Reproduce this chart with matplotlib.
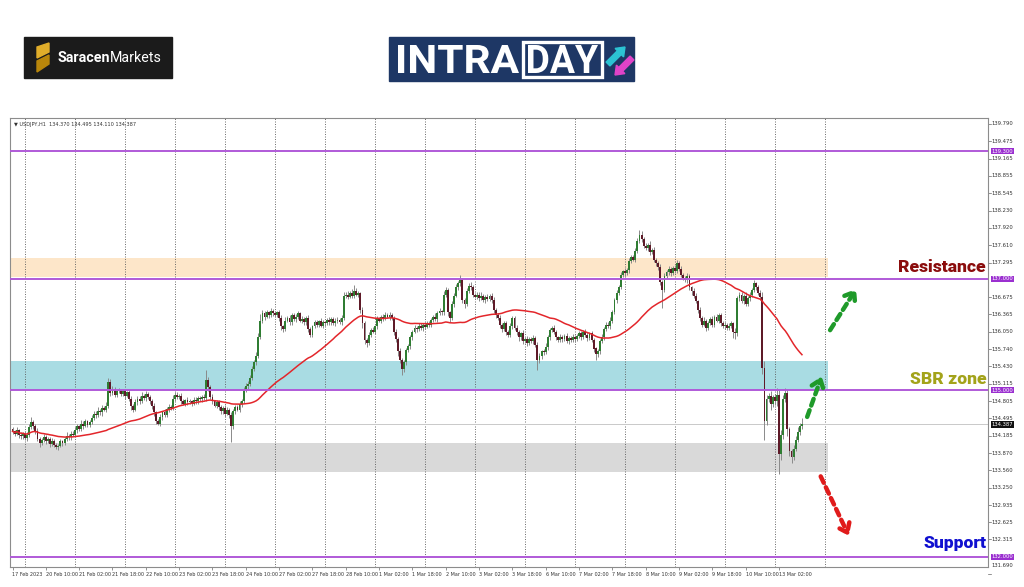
import numpy as np
import pandas as pd
import matplotlib
matplotlib.use("Agg")
import matplotlib.pyplot as plt
from matplotlib.patches import Rectangle, Polygon, FancyArrow, PathPatch
from matplotlib.textpath import TextPath
from matplotlib.font_manager import FontProperties
from matplotlib.transforms import Affine2D

# ---------------- data ----------------
symbol_text = "\u25bc USDJPY,H1  134.370 134.495 134.110 134.387"
open_first = 134.30
closes = [
    134.26, 134.22, 134.28, 134.20, 134.17, 134.22, 134.14, 134.20, 134.34, 134.42,
    134.36, 134.27, 134.12, 134.05, 134.10, 134.16, 134.08, 134.12, 134.04, 134.09,
    134.02, 133.98, 134.00, 134.08, 134.05, 134.12, 134.18, 134.15, 134.22, 134.20,
    134.28, 134.35, 134.30, 134.40, 134.36, 134.44, 134.38, 134.42, 134.50, 134.58,
    134.55, 134.63, 134.60, 134.68, 134.65, 134.72, 135.15, 134.95, 135.02, 134.92,
    134.98, 135.00, 134.94, 134.98, 134.90, 134.96, 134.85, 134.72, 134.65, 134.78,
    134.85, 134.80, 134.90, 134.86, 134.93, 134.88, 134.80, 134.72, 134.60, 134.45,
    134.40, 134.52, 134.60, 134.55, 134.66, 134.70, 134.68, 134.85, 134.92, 134.88,
    134.90, 134.80, 134.76, 134.82, 134.78, 134.80, 134.76, 134.83, 134.80, 134.86,
    134.84, 134.88, 134.86, 135.18, 135.05, 134.88, 134.80, 134.72, 134.78, 134.70,
    134.62, 134.68, 134.58, 134.65, 134.55, 134.35, 134.62, 134.70, 134.65, 134.75,
    134.80, 135.00, 135.08, 135.12, 135.22, 135.38, 135.50, 135.62, 135.95, 136.25,
    136.38, 136.32, 136.40, 136.36, 136.42, 136.38, 136.35, 136.40, 136.30, 136.15,
    136.10, 136.25, 136.30, 136.22, 136.35, 136.28, 136.32, 136.38, 136.25, 136.28,
    136.22, 136.30, 136.10, 136.00, 136.15, 136.22, 136.18, 136.24, 136.16, 136.22,
    136.20, 136.26, 136.22, 136.28, 136.20, 136.25, 136.27, 136.22, 136.30, 136.70,
    136.72, 136.68, 136.75, 136.70, 136.78, 136.72, 136.74, 136.45, 136.20, 135.90,
    135.85, 136.00, 136.08, 136.05, 136.15, 136.28, 136.25, 136.32, 136.30, 136.36,
    136.32, 136.35, 136.30, 136.05, 135.92, 135.70, 135.55, 135.38, 135.50, 135.72,
    135.80, 135.95, 136.05, 136.12, 136.10, 136.16, 136.12, 136.18, 136.14, 136.20,
    136.18, 136.26, 136.32, 136.28, 136.38, 136.42, 136.40, 136.72, 136.80, 136.40,
    136.30, 136.55, 136.70, 136.85, 136.92, 136.98, 136.62, 136.55, 136.78, 136.88,
    136.85, 136.72, 136.68, 136.72, 136.65, 136.70, 136.62, 136.68, 136.64, 136.70,
    136.62, 136.45, 136.35, 136.30, 136.18, 136.10, 136.20, 136.05, 136.00, 136.15,
    136.30, 136.12, 136.05, 135.95, 136.02, 135.88, 135.92, 135.85, 135.92, 135.88,
    135.94, 135.82, 135.55, 135.62, 135.70, 135.68, 135.78, 135.95, 136.08, 136.12,
    136.05, 135.95, 135.90, 135.96, 135.92, 135.98, 135.88, 135.94, 135.90, 135.96,
    135.92, 135.98, 136.02, 135.95, 136.05, 136.00, 135.94, 136.02, 135.90, 135.75,
    135.65, 135.70, 135.88, 135.95, 136.10, 136.18, 136.15, 136.25, 136.40, 136.62,
    136.75, 136.85, 137.08, 137.14, 137.10, 137.16, 137.32, 137.40, 137.35, 137.50,
    137.68, 137.80, 137.72, 137.60, 137.55, 137.62, 137.48, 137.52, 137.35, 137.28,
    137.22, 136.95, 136.80, 137.05, 137.12, 137.18, 137.10, 137.20, 137.15, 137.28,
    137.18, 137.08, 137.02, 136.98, 137.05, 136.85, 136.78, 136.70, 136.60, 136.45,
    136.30, 136.18, 136.25, 136.12, 136.20, 136.28, 136.18, 136.32, 136.25, 136.35,
    136.20, 136.15, 136.18, 136.12, 136.16, 136.20, 136.05, 136.02, 136.65, 136.72,
    136.60, 136.70, 136.55, 136.65, 136.72, 136.80, 136.92, 136.85, 136.75, 136.68,
    135.40, 134.45, 134.85, 134.90, 134.75, 134.88, 134.80, 134.92, 133.85, 134.20,
    134.85, 134.95, 134.30, 133.90, 133.80, 133.95, 134.10, 134.25, 134.35, 134.387,
]
# upper / lower wick lengths in hundredths of a yen
upper_wick = [
    4,3,5,3,4,3,5,4,6,10,4,3,5,3,4,6,3,4,3,5,
    4,3,4,5,3,4,6,3,5,4,6,5,3,7,4,5,3,4,6,5,
    4,6,3,5,4,6,7,5,6,3,5,4,3,5,4,3,5,4,3,6,
    5,4,6,3,5,4,3,4,5,3,4,5,3,6,4,5,3,6,5,4,
    3,5,4,3,5,4,3,5,4,3,4,3,5,18,6,4,5,3,4,5,
    4,3,5,4,3,6,5,4,3,5,4,6,5,4,6,5,4,6,8,12,
    6,4,5,3,6,4,5,3,4,5,3,6,4,5,3,4,5,4,3,5,
    4,3,5,4,3,5,4,3,5,4,3,4,5,3,4,5,4,3,5,6,
    5,6,4,7,11,5,4,3,5,4,3,5,4,6,3,5,4,3,5,4,
    3,5,4,3,5,4,6,3,5,4,3,5,4,6,3,5,4,3,5,4,
    5,4,3,6,4,5,3,6,5,4,3,5,4,6,5,9,4,3,5,4,
    6,4,3,5,4,6,3,4,5,3,4,5,3,4,6,3,5,4,3,6,
    4,3,5,4,3,6,4,5,3,4,5,3,4,5,3,4,6,5,4,3,
    5,4,3,5,4,3,5,4,3,5,4,3,5,4,3,5,4,3,5,4,
    3,5,4,6,3,5,4,6,5,4,6,5,4,3,6,4,5,4,3,6,
    5,8,6,4,5,3,6,4,5,3,4,5,3,6,4,5,3,4,5,6,
    4,5,3,4,5,4,3,5,4,3,5,4,6,3,5,4,6,3,5,4,
    3,5,4,3,5,4,3,6,5,4,5,3,6,4,5,4,6,3,4,5,
    8,12,6,5,8,4,6,12,10,8,6,9,6,4,5,6,7,8,6,11,
]
lower_wick = [
    4,5,3,6,4,5,3,5,4,3,5,6,4,7,3,4,5,3,6,4,
    5,4,6,3,5,4,3,5,4,3,4,5,3,4,5,3,4,5,3,4,
    5,3,4,6,3,5,4,6,3,5,4,3,5,4,6,3,5,7,4,3,
    4,5,3,4,5,3,4,5,6,5,3,4,5,3,4,5,3,4,5,3,
    4,5,3,4,5,3,4,3,5,4,3,5,4,5,6,4,5,3,4,6,
    5,4,6,3,5,28,4,5,3,4,5,3,4,6,5,4,3,5,4,3,
    4,5,3,6,4,5,3,4,5,6,5,4,3,5,4,3,5,4,3,5,
    4,5,6,5,4,3,5,4,3,5,4,3,5,4,3,5,4,3,4,3,
    5,4,3,5,4,3,5,6,8,7,8,4,5,3,4,5,3,4,5,4,
    3,5,4,5,6,8,6,11,5,4,3,5,4,3,5,4,3,5,4,3,
    4,5,3,4,5,3,4,5,4,6,8,4,5,3,4,5,6,7,4,3,
    4,5,3,4,5,3,4,5,3,4,5,6,5,4,6,5,4,6,5,4,
    5,4,5,6,4,5,3,5,4,3,5,4,19,6,5,4,3,5,4,3,
    4,5,3,4,5,3,4,5,3,4,5,3,4,5,3,4,5,3,4,6,
    11,5,4,3,5,4,3,5,4,3,5,4,3,5,4,3,5,4,3,4,
    4,3,5,4,3,5,4,3,5,4,6,5,32,4,3,5,4,3,5,4,
    3,5,4,3,5,4,6,5,4,6,5,4,3,5,4,3,5,4,3,5,
    4,3,5,4,3,5,12,10,4,5,3,5,4,3,5,4,3,5,4,5,
    10,35,8,6,10,5,7,9,35,10,8,6,12,8,11,6,5,4,6,5,
]
ma_period = 50

x_labels = ["17 Feb 2023", "20 Feb 10:00", "21 Feb 02:00", "21 Feb 18:00", "22 Feb 10:00",
            "23 Feb 02:00", "23 Feb 18:00", "24 Feb 10:00", "27 Feb 02:00", "27 Feb 18:00",
            "28 Feb 10:00", "1 Mar 02:00", "1 Mar 18:00", "2 Mar 10:00", "3 Mar 02:00",
            "3 Mar 18:00", "6 Mar 10:00", "7 Mar 02:00", "7 Mar 18:00", "8 Mar 10:00",
            "9 Mar 02:00", "9 Mar 18:00", "10 Mar 10:00", "13 Mar 02:00"]
bars_per_label = 16
day_start_bar = 6
bars_per_day = 24

price_ticks = [139.790, 139.475, 139.165, 138.855, 138.545, 138.230, 137.920, 137.610,
               137.295, 136.675, 136.365, 136.050, 135.740, 135.430, 135.115, 134.805,
               134.495, 134.185, 133.870, 133.560, 133.250, 132.935, 132.625, 132.315,
               131.690]
level_lines = [139.300, 137.000, 135.000, 132.000]
current_price = 134.387

zones = {  # (low, high, color)
    "resistance": (137.03, 137.38, "#fde6c9"),
    "sbr": (135.00, 135.53, "#a9dce3"),
    "support_zone": (133.53, 134.05, "#d9d9d9"),
}
zone_end_bar = 391.5

# ---------------- figure ----------------
W, H = 1024, 587
fig = plt.figure(figsize=(W / 100, H / 100), dpi=100)
fig.patch.set_facecolor("white")

bg = fig.add_axes([0, 0, 1, 1])
bg.set_xlim(0, W)
bg.set_ylim(H, 0)
bg.axis("off")


def fitted_text(txt, x0, x1, y_top, y_base, color, weight="bold", family="Roboto"):
    tp = TextPath((0, 0), txt, size=1, prop=FontProperties(family=family, weight=weight))
    ext = tp.get_extents()
    sx = (x1 - x0) / ext.width
    sy = (y_base - y_top) / ext.height
    tr = Affine2D().translate(-ext.x0, -ext.y0).scale(sx, -sy).translate(x0, y_base)
    bg.add_patch(PathPatch(tr.transform_path(tp), color=color, lw=0))


# Saracen logo
bg.add_patch(Rectangle((24, 37), 148, 41, color="#1b1b1b"))
bg.add_patch(Polygon([(37, 47), (49, 43), (49, 52), (37, 58)], closed=True, color="#e0ad2a"))
bg.add_patch(Polygon([(37, 61), (49, 55), (49, 64), (37, 72)], closed=True, color="#b8860b"))
bg.text(57, 58, "Saracen", color="white", fontsize=10.3, fontweight="bold",
        va="center", ha="left", family="Roboto")
bg.text(110, 58, "Markets", color="white", fontsize=10.3, va="center", ha="left",
        family="Roboto")

# INTRADAY logo
bg.add_patch(Rectangle((389, 37), 245, 44, color="#1e3765"))
fitted_text("INTRA", 398, 519, 45, 73, "white")
bg.add_patch(Rectangle((523, 41.5), 79, 35, fill=False, ec="white", lw=2.4))
fitted_text("DAY", 528, 598, 45, 73, "white")
bg.add_patch(FancyArrow(608, 64, 17, -17, width=5.5, head_width=12, head_length=8,
                        length_includes_head=True, color="#2cc3d3"))
bg.add_patch(FancyArrow(632, 58, -17, 17, width=5.5, head_width=12, head_length=8,
                        length_includes_head=True, color="#e043c8"))

# ---------------- chart axes ----------------
px_per_bar = 2.083
bar0_px = 12.5
left_px, right_px, top_px, bot_px = 10, 988, 118, 567
py_per_unit = 55.6
ref_price, ref_py = 137.0, 279

ax = fig.add_axes([left_px / W, 1 - bot_px / H, (right_px - left_px) / W, (bot_px - top_px) / H])
xmin = -(bar0_px - left_px) / px_per_bar
xmax = xmin + (right_px - left_px) / px_per_bar
ymin = ref_price - (bot_px - ref_py) / py_per_unit
ymax = ref_price + (ref_py - top_px) / py_per_unit
ax.set_xlim(xmin, xmax)
ax.set_ylim(ymin, ymax)
for s in ax.spines.values():
    s.set_color("#8c8c8c")
    s.set_linewidth(0.8)

c = np.array(closes, dtype=float)
n = len(c)
idx = np.arange(n)
o = np.r_[open_first, c[:-1]]
hi = np.maximum(o, c) + np.array(upper_wick) / 100
lo = np.minimum(o, c) - np.array(lower_wick) / 100
bull = c >= o

# zones
for lo_z, hi_z, col in zones.values():
    ax.add_patch(Rectangle((xmin, lo_z), zone_end_bar - xmin, hi_z - lo_z, color=col, lw=0, zorder=0.5))

# day separators (dotted grid)
for b in range(day_start_bar, int(zone_end_bar) + 1, bars_per_day):
    ax.axvline(b, color="#5a5a5a", lw=0.6, ls=(0, (1.2, 1.8)), zorder=0.8)

# current price line
ax.axhline(current_price, color="#c9c9c9", lw=0.7, zorder=0.9)

# level lines
for lv in level_lines:
    ax.axhline(lv, color="#b05ad8", lw=1.4, zorder=3)

# candles
ax.vlines(idx, lo, hi, color="#8a8a8a", lw=0.7, zorder=1.5)
hgt = np.where(np.abs(c - o) < 0.01, 0.01, np.abs(c - o))
ax.bar(idx[bull], hgt[bull], bottom=o[bull], width=0.9, color="#2f7d32", lw=0, zorder=2)
ax.bar(idx[~bull], hgt[~bull], bottom=c[~bull], width=0.9, color="#5e1a28", lw=0, zorder=2)

# moving average
ma = pd.Series(c).rolling(ma_period, min_periods=1).mean()
ax.plot(idx, ma, color="#e3262b", lw=1.1, zorder=2.5)

# x ticks
xt = [i * bars_per_label for i in range(len(x_labels))]
ax.set_xticks(xt)
ax.set_xticklabels(x_labels, fontsize=3.5, color="#333333")
for lbl in ax.get_xticklabels():
    lbl.set_ha("left")
ax.tick_params(axis="x", length=2, width=0.5, color="#666666", pad=1.5)
ax.set_yticks([])

# right price scale
ytrans = ax.get_yaxis_transform()
for p in price_ticks:
    yp = max(p, ymin + 0.02)
    ax.text(1.004, yp, f"{p:.3f}", transform=ytrans, fontsize=3.8, color="#333333",
            va="center", ha="left", clip_on=False)
    ax.plot([1.0, 1.003], [p, p], transform=ytrans, color="#666666", lw=0.5, clip_on=False)
for lv in level_lines:
    ax.text(1.004, lv, f"{lv:.3f}", transform=ytrans, fontsize=3.8, color="white",
            va="center", ha="left", clip_on=False,
            bbox=dict(boxstyle="square,pad=0.15", fc="#9b30d0", ec="none"))
ax.text(1.004, current_price, f"{current_price:.3f}", transform=ytrans, fontsize=3.8,
        color="white", va="center", ha="left", clip_on=False,
        bbox=dict(boxstyle="square,pad=0.15", fc="#111111", ec="none"))

# symbol header
ax.text(0.004, 0.985, symbol_text, transform=ax.transAxes, fontsize=3.6,
        color="#333333", va="center", ha="left")

# zone labels
lab_font = dict(fontsize=12.6, fontweight="black", family="Roboto")
ax.text(0.9975, 137.22, "Resistance", transform=ytrans, ha="right", va="center",
        color="#8b0d0d", **lab_font)
ax.text(0.9985, 135.20, "SBR zone", transform=ytrans, ha="right", va="center",
        color="#a3a31a", **lab_font)
ax.text(0.9985, 132.25, "Support", transform=ytrans, ha="right", va="center",
        color="#1010d0", **lab_font)

# arrows
dash = (0, (1.6, 1.1))


def darrow(x0, y0, x1, y1, col):
    ax.annotate("", xy=(x1, y1), xytext=(x0, y0),
                arrowprops=dict(arrowstyle="->,head_length=0.6,head_width=0.45",
                                lw=3.2, color=col, linestyle=dash,
                                shrinkA=0, shrinkB=0), zorder=4)


darrow(381.5, 134.52, 388.5, 135.25, "#1f9a2a")
darrow(392.5, 136.08, 405.0, 136.82, "#1f9a2a")
darrow(388.0, 133.45, 401.5, 132.38, "#e01b1b")

fig.savefig("out.png", dpi=100, facecolor="white")
